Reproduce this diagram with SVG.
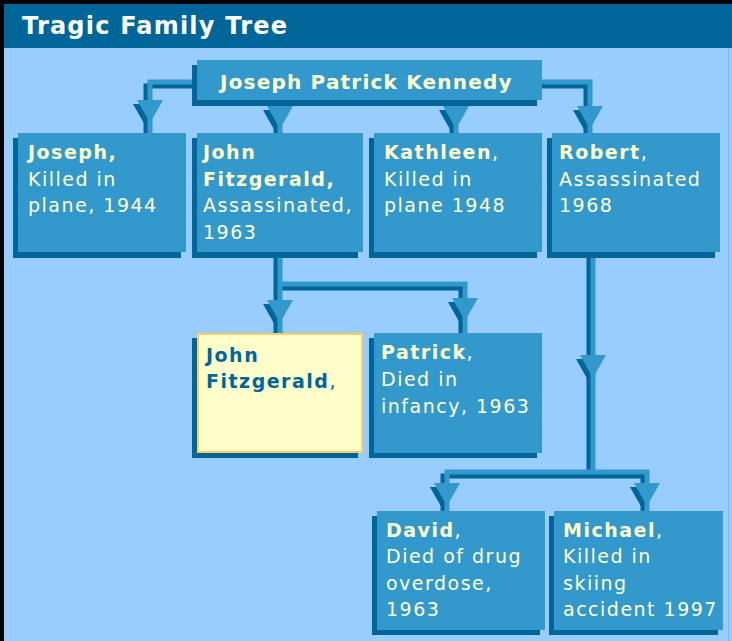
<svg xmlns="http://www.w3.org/2000/svg" xmlns:xlink="http://www.w3.org/1999/xlink" width="732" height="641" viewBox="0 0 732 641">
  <style>
    text { font-family: "DejaVu Sans", Verdana, sans-serif; font-size: 19px; letter-spacing: 1.5px; fill: #FFFFCC; }
    .b { font-weight: bold; }
    .title { font-size: 24px; font-weight: bold; fill: #FFFFFF; letter-spacing: 1.2px; }
    .root { font-size: 20px; font-weight: bold; letter-spacing: 1.2px; }
    .box { fill: #3399CC; }
    .shadow { fill: #006699; }
    .hl { fill: #FFFFCC; stroke: #FFCC66; stroke-width: 2; }
    .hlt { fill: #006699; }
    .ln { fill: none; stroke: #3399CC; stroke-width: 5; }
    .lns { fill: none; stroke: #006699; stroke-width: 5; }
    .ar { fill: #3399CC; }
    .ars { fill: #006699; }
  </style>
  <defs>
    <path id="tri" d="M-13,0 H13 L0,23 Z"/>
    <g id="lines">
      <path d="M197,82 H150 V133"/>
      <path d="M280,100 V133"/>
      <path d="M456,100 V133"/>
      <path d="M542,82 H590 V133"/>
      <path d="M280,252 V333 M280,284 H465 V333"/>
      <path d="M593,252 V472 M447,511 V472 H647 V511"/>
    </g>
    <g id="arrows">
      <use xlink:href="#tri" x="150" y="100"/>
      <use xlink:href="#tri" x="280" y="106"/>
      <use xlink:href="#tri" x="456" y="106"/>
      <use xlink:href="#tri" x="590" y="106"/>
      <use xlink:href="#tri" x="280" y="300"/>
      <use xlink:href="#tri" x="465" y="298"/>
      <use xlink:href="#tri" x="593" y="355"/>
      <use xlink:href="#tri" x="447" y="483"/>
      <use xlink:href="#tri" x="647" y="483"/>
    </g>
  </defs>

  <!-- background and frame -->
  <rect x="0" y="0" width="732" height="641" fill="#99CCFF"/>
  <rect x="0" y="0" width="732" height="48" fill="#006699"/>
  <rect x="0" y="0" width="732" height="4" fill="#000000"/>
  <rect x="0" y="0" width="4" height="641" fill="#000000"/>
  <rect x="728" y="48" width="1" height="593" fill="#7FB5E8"/>
  <text class="title" x="22" y="34">Tragic Family Tree</text>

  <!-- connectors -->
  <g id="connectors">
    <g transform="translate(-4,4)">
      <use xlink:href="#lines" class="lns"/>
      <use xlink:href="#arrows" class="ars"/>
    </g>
    <use xlink:href="#lines" class="ln"/>
    <use xlink:href="#arrows" class="ar"/>
  </g>

  <g id="root">
    <rect class="shadow" x="192" y="65" width="345" height="41"/>
    <rect class="box" x="197" y="60" width="345" height="40"/>
    <text class="root" x="220" y="89">Joseph Patrick Kennedy</text>
  </g>

  <g id="joseph">
    <rect class="shadow" x="13" y="138" width="168" height="120"/>
    <rect class="box" x="18" y="133" width="168" height="119"/>
    <text x="28" y="159" class="b">Joseph,</text>
    <text x="28" y="185.5">Killed in</text>
    <text x="28" y="212">plane, 1944</text>
  </g>

  <g id="jfk">
    <rect class="shadow" x="192" y="138" width="166" height="120"/>
    <rect class="box" x="197" y="133" width="166" height="119"/>
    <text x="203" y="159" class="b">John</text>
    <text x="203" y="185.5" class="b">Fitzgerald,</text>
    <text x="203" y="212">Assassinated,</text>
    <text x="203" y="238.5">1963</text>
  </g>

  <g id="kathleen">
    <rect class="shadow" x="369" y="138" width="168" height="120"/>
    <rect class="box" x="374" y="133" width="168" height="119"/>
    <text x="384" y="159"><tspan class="b">Kathleen</tspan>,</text>
    <text x="384" y="185.5">Killed in</text>
    <text x="384" y="212">plane 1948</text>
  </g>

  <g id="robert">
    <rect class="shadow" x="547" y="138" width="168" height="120"/>
    <rect class="box" x="552" y="133" width="168" height="119"/>
    <text x="559" y="159"><tspan class="b">Robert</tspan>,</text>
    <text x="559" y="185.5">Assassinated</text>
    <text x="559" y="212">1968</text>
  </g>

  <g id="jfkjr">
    <rect class="shadow" x="192" y="338" width="166" height="120"/>
    <rect class="hl" x="198" y="334" width="164" height="118"/>
    <text x="206" y="362" class="hlt b">John</text>
    <text x="206" y="388" class="hlt"><tspan class="b">Fitzgerald</tspan>,</text>
  </g>

  <g id="patrick">
    <rect class="shadow" x="369" y="338" width="168" height="120"/>
    <rect class="box" x="374" y="333" width="168" height="120"/>
    <text x="381" y="359"><tspan class="b">Patrick</tspan>,</text>
    <text x="381" y="386">Died in</text>
    <text x="381" y="413">infancy, 1963</text>
  </g>

  <g id="david">
    <rect class="shadow" x="372" y="516" width="168" height="119"/>
    <rect class="box" x="377" y="511" width="168" height="119"/>
    <text x="386" y="537"><tspan class="b">David</tspan>,</text>
    <text x="386" y="563">Died of drug</text>
    <text x="386" y="590">overdose,</text>
    <text x="386" y="616">1963</text>
  </g>

  <g id="michael">
    <rect class="shadow" x="549" y="516" width="169" height="119"/>
    <rect class="box" x="554" y="511" width="169" height="119"/>
    <text x="563" y="537"><tspan class="b">Michael</tspan>,</text>
    <text x="563" y="563">Killed in</text>
    <text x="563" y="590">skiing</text>
    <text x="563" y="616">accident 1997</text>
  </g>
</svg>
